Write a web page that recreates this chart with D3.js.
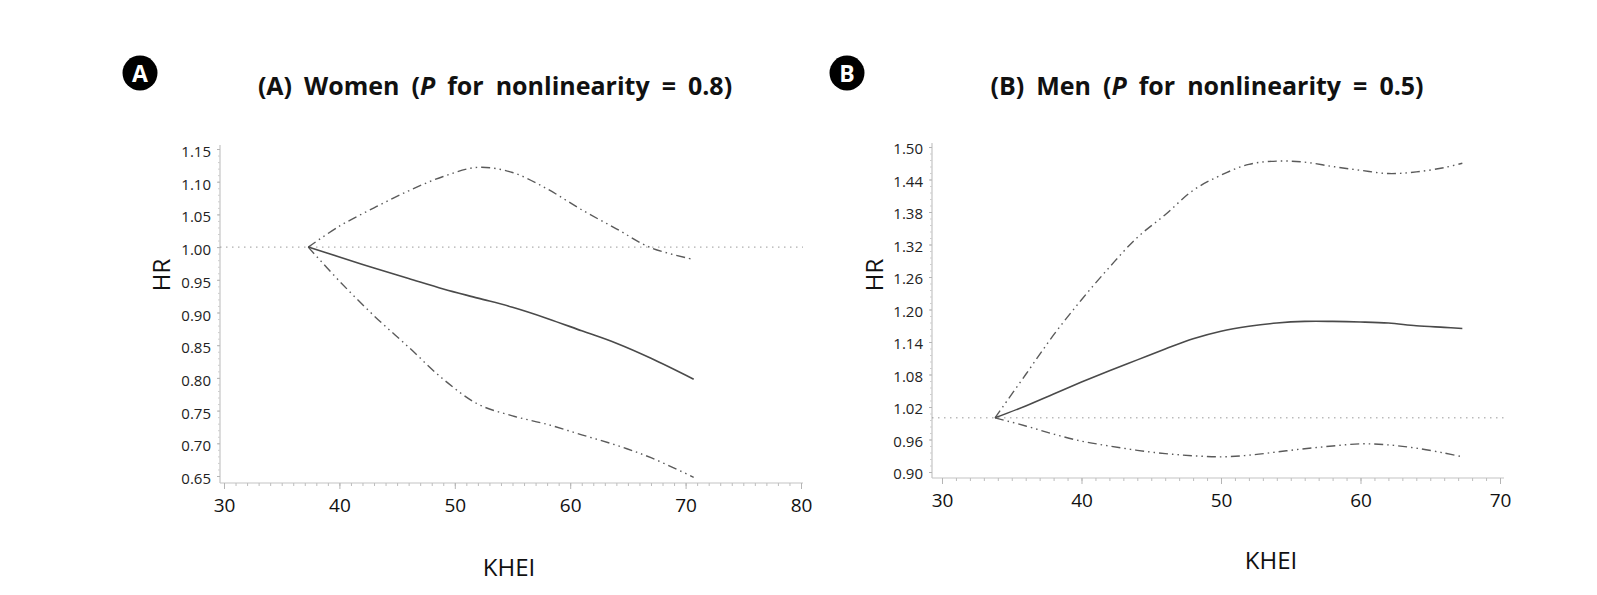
<!DOCTYPE html>
<html><head><meta charset="utf-8">
<script src="https://cdn.jsdelivr.net/npm/d3@7"></script>
<style>body{margin:0;background:#fff}svg{display:block}</style>
</head><body>
<svg id="c" width="1597" height="595"></svg>
<script>
// ---- Panel A: Women ----
const kheiA  = [37.3, 40, 43, 46, 49, 52, 55, 58, 61, 64, 67, 70.7];
const hrA    = [1.000, 0.985, 0.968, 0.952, 0.936, 0.922, 0.908, 0.891, 0.872, 0.853, 0.830, 0.798];
const upperA = [1.000, 1.032, 1.060, 1.086, 1.108, 1.122, 1.114, 1.089, 1.057, 1.028, 0.999, 0.981];
const lowerA = [1.000, 0.948, 0.895, 0.847, 0.798, 0.760, 0.742, 0.729, 0.713, 0.697, 0.678, 0.648];
const xTicksA = [30, 40, 50, 60, 70, 80];
const yTicksA = [0.65, 0.70, 0.75, 0.80, 0.85, 0.90, 0.95, 1.00, 1.05, 1.10, 1.15];

// ---- Panel B: Men ----
const kheiB  = [33.8, 36, 38, 40, 42, 44, 46, 48, 50, 52, 54, 56, 58, 60, 62, 64, 66, 67.3];
const hrB    = [1.000, 1.022, 1.044, 1.066, 1.087, 1.107, 1.127, 1.146, 1.160, 1.169, 1.175, 1.178, 1.178, 1.177, 1.175, 1.170, 1.167, 1.165];
const upperB = [1.000, 1.080, 1.153, 1.218, 1.278, 1.333, 1.375, 1.420, 1.448, 1.468, 1.474, 1.472, 1.464, 1.457, 1.451, 1.454, 1.462, 1.470];
const lowerB = [1.000, 0.985, 0.970, 0.957, 0.948, 0.940, 0.934, 0.930, 0.928, 0.931, 0.937, 0.943, 0.948, 0.952, 0.950, 0.944, 0.935, 0.928];
const xTicksB = [30, 40, 50, 60, 70];
const yTicksB = [0.90, 0.96, 1.02, 1.08, 1.14, 1.20, 1.26, 1.32, 1.38, 1.44, 1.50];

const titles = ["(A) Women (", "(B) Men ("];
const pValues = ["0.8", "0.5"];
const badges = ["A", "B"];

const svg = d3.select("#c");
const FONT = "'Open Sans', 'Noto Sans', sans-serif";

function panel(o) {
  const g = svg.append("g");
  const xs = d3.scaleLinear().domain(o.xDom).range(o.xRange);
  const ys = d3.scaleLinear().domain(o.yDom).range(o.yRange);

  g.append("line").attr("x1", o.axisX).attr("x2", o.axisX).attr("y1", o.axisTop).attr("y2", o.axisY)
    .attr("stroke", "#c4c4c4").attr("stroke-width", 1.2);
  g.append("line").attr("x1", o.axisX).attr("x2", o.axisRight).attr("y1", o.axisY).attr("y2", o.axisY)
    .attr("stroke", "#c4c4c4").attr("stroke-width", 1.2);

  const minorX = d3.range(o.xDom[0], o.xDom[1] + 0.001, 1);
  g.append("g").attr("transform", `translate(0,${o.axisY})`)
    .call(d3.axisBottom(xs).tickValues(minorX).tickSize(3).tickFormat(""))
    .call(s => s.select(".domain").remove())
    .call(s => s.selectAll("line").attr("stroke", "#bdbdbd"));
  g.append("g").attr("transform", `translate(0,${o.axisY})`)
    .call(d3.axisBottom(xs).tickValues(o.xTicks).tickSize(6).tickPadding(10).tickFormat(d3.format("d")))
    .call(s => s.select(".domain").remove())
    .call(s => s.selectAll("line").attr("stroke", "#b5b5b5"))
    .call(s => s.selectAll("text").attr("font-family", FONT).attr("font-size", 19).attr("fill", "#111"));

  const step = o.yTicks[1] - o.yTicks[0];
  const minorY = d3.range(0, Math.round((o.yDom[1] - o.yDom[0]) / (step / 5)) + 1).map(i => o.yDom[0] + i * step / 5);
  g.append("g").attr("transform", `translate(${o.axisX},0)`)
    .call(d3.axisLeft(ys).tickValues(minorY).tickSize(2).tickFormat(""))
    .call(s => s.select(".domain").remove())
    .call(s => s.selectAll("line").attr("stroke", "#cfcfcf"));
  g.append("g").attr("transform", `translate(${o.axisX},0)`)
    .call(d3.axisLeft(ys).tickValues(o.yTicks).tickSize(3).tickPadding(6).tickFormat(d3.format(".2f")))
    .call(s => s.select(".domain").remove())
    .call(s => s.selectAll("line").attr("stroke", "#b5b5b5"))
    .call(s => s.selectAll("text").attr("font-family", FONT).attr("font-size", 15).attr("fill", "#222").attr("dy", o.labelDy));

  g.append("line").attr("x1", o.axisX).attr("x2", o.axisRight).attr("y1", ys(1)).attr("y2", ys(1))
    .attr("stroke", "#999").attr("stroke-width", 1).attr("stroke-dasharray", "1.5,4.5");

  const line = (arr) => d3.line().x((d, i) => xs(o.khei[i])).y(d => ys(d)).curve(d3.curveCatmullRom.alpha(0.5))(arr);
  [o.upper, o.lower].forEach(arr => {
    g.append("path").attr("d", line(arr)).attr("fill", "none").attr("stroke", "#5a5a5a")
      .attr("stroke-width", 1.4).attr("stroke-dasharray", "9,4,1.5,4,1.5,4");
  });
  g.append("path").attr("d", line(o.hr)).attr("fill", "none").attr("stroke", "#4a4a4a").attr("stroke-width", 1.6);

  g.append("text").attr("transform", `translate(${o.hrX},${o.hrY}) rotate(-90)`).attr("text-anchor", "middle")
    .attr("dominant-baseline", "central").attr("font-family", FONT).attr("font-size", 24).attr("fill", "#111").text("HR");
  g.append("text").attr("x", o.kheiX).attr("y", o.kheiY).attr("text-anchor", "middle")
    .attr("font-family", FONT).attr("font-size", 24).attr("fill", "#111").text("KHEI");

  const t = g.append("text").attr("x", o.titleX).attr("y", 95).attr("text-anchor", "middle")
    .attr("font-family", FONT).attr("font-size", 25).attr("font-weight", "bold").attr("fill", "#111")
    .attr("word-spacing", 5.5);
  t.append("tspan").text(o.title);
  t.append("tspan").attr("font-style", "italic").text("P");
  t.append("tspan").text(" for nonlinearity = " + o.p + ")");

  g.append("circle").attr("cx", o.badgeX).attr("cy", 73).attr("r", 17.5).attr("fill", "#000");
  g.append("text").attr("x", o.badgeX).attr("y", 73).attr("text-anchor", "middle").attr("dominant-baseline", "central")
    .attr("font-family", FONT).attr("font-size", 23).attr("font-weight", "bold").attr("fill", "#fff").text(o.badge);
}

panel({
  khei: kheiA, hr: hrA, upper: upperA, lower: lowerA, xTicks: xTicksA, yTicks: yTicksA,
  xDom: [30, 80], xRange: [224, 801], yDom: [0.65, 1.15], yRange: [476, 149], labelDy: "0.5em",
  axisX: 220, axisTop: 145, axisY: 483, axisRight: 803,
  hrX: 160, hrY: 275, kheiX: 509, kheiY: 576,
  title: titles[0], p: pValues[0], titleX: 495, badge: badges[0], badgeX: 140
});
panel({
  khei: kheiB, hr: hrB, upper: upperB, lower: lowerB, xTicks: xTicksB, yTicks: yTicksB,
  xDom: [30, 70], xRange: [942, 1500], yDom: [0.90, 1.50], yRange: [472, 147], labelDy: "0.45em",
  axisX: 932, axisTop: 143, axisY: 478, axisRight: 1504,
  hrX: 873, hrY: 275, kheiX: 1271, kheiY: 569,
  title: titles[1], p: pValues[1], titleX: 1207, badge: badges[1], badgeX: 847
});
</script>
</body></html>
